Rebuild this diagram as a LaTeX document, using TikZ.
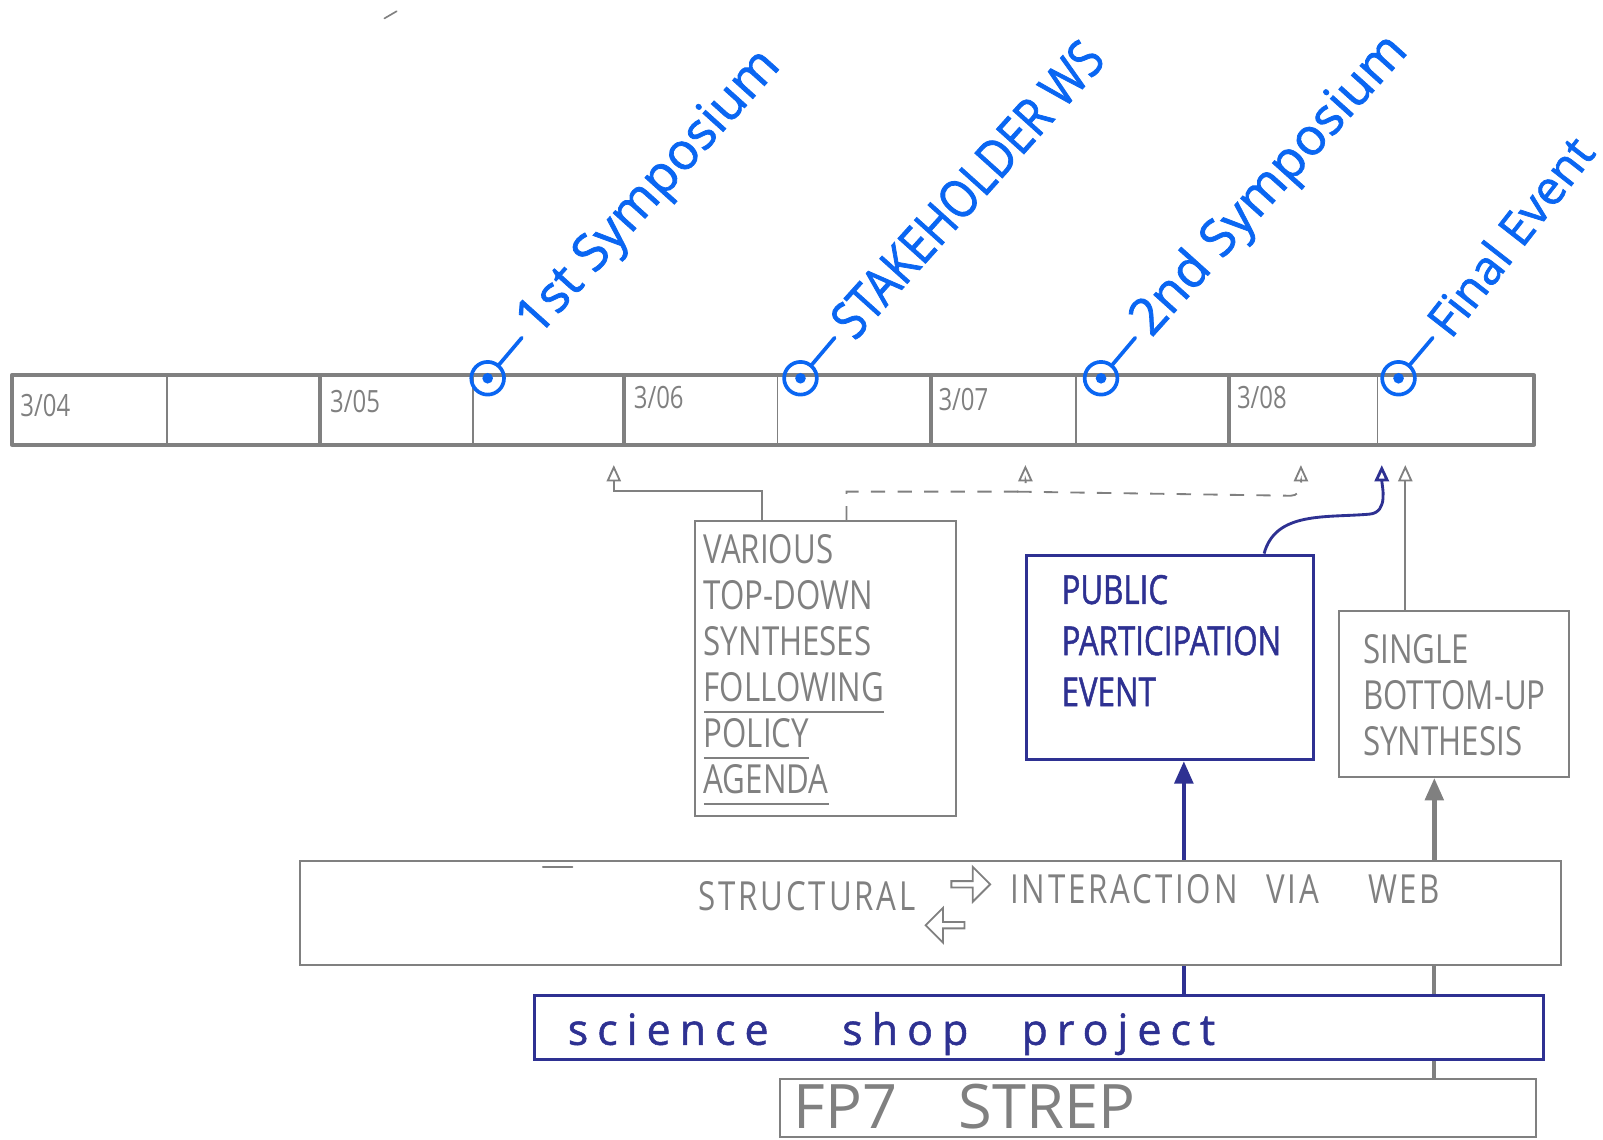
\documentclass[tikz,border=0pt]{standalone}
\usepackage{fontspec}
\setmainfont{Open Sans}
\newfontfamily\hand[FakeStretch=0.78]{Open Sans}
\newfontfamily\handn[FakeStretch=0.78,FakeBold=1.2]{Open Sans}
\newfontfamily\handls[FakeStretch=0.78,LetterSpace=7]{Open Sans}
\newfontfamily\bluefont[FakeBold=1.5]{Open Sans}
\newfontfamily\bluecaps[FakeStretch=0.85,FakeBold=1.5]{Open Sans}
\newfontfamily\handsp[LetterSpace=21,FakeBold=1.2]{Open Sans}
\newsavebox\myulbox
\newcommand\myul[1]{\sbox\myulbox{#1}\rlap{\rule[-6pt]{\wd\myulbox}{1pt}}\usebox\myulbox}
\usetikzlibrary{arrows.meta,shapes.arrows,calc}
\definecolor{sgray}{HTML}{808080}
\definecolor{sblue}{HTML}{0A66F2}
\definecolor{snavy}{HTML}{2E3192}
\tikzset{
  tl/.style={draw=sgray, line width=2pt, line cap=round, line join=round},
  tlthin/.style={draw=sgray, line width=0.8pt},
  cellst/.style={minimum height=33.5pt, inner sep=0pt},
  datest/.style={text=sgray, font=\hand\fontsize{15}{15}\selectfont, inner sep=0pt, anchor=west},
  mstone/.style={circle, draw=sblue, line width=1.8pt, minimum size=16pt, inner sep=0pt},
  mtick/.style={draw=sblue, line width=1.8pt, line cap=round},
  mlab/.style={text=sblue, font=\bluefont\fontsize{25}{25}\selectfont, inner sep=0pt, rotate=48, anchor=west},
  gbox/.style={draw=sgray, line width=1pt, inner sep=0pt},
  nbox/.style={draw=snavy, line width=1.5pt, inner sep=0pt},
  gtext/.style={text=sgray, font=\hand\fontsize{19.6}{22.5}\selectfont, inner sep=0pt, align=left},
  ntext/.style={text=snavy, font=\handn\fontsize{19.6}{25}\selectfont, inner sep=0pt, align=left},
  gconn/.style={draw=sgray, line width=0.9pt, -{Triangle[open, length=8pt, width=7pt]}},
  nconn/.style={draw=snavy, line width=1.4pt, -{Triangle[open, length=8pt, width=7pt]}},
  bigarr/.style={line width=2.2pt, -{Triangle[length=11pt, width=9pt]}},
  blockarr/.style={single arrow, draw=sgray, line width=0.9pt, minimum height=19pt, minimum width=17pt, single arrow head extend=2pt, inner sep=0pt}
}
\begin{document}
\begin{tikzpicture}[x=0.5pt,y=-0.5pt]
\useasboundingbox (0,0) rectangle (1568,1115);

% stray strokes
\draw[sgray, line width=0.8pt, line cap=round] (376,18) -- (388,11);
\draw[sgray, line width=0.8pt, line cap=round] (531,848) -- (560,848);

% timeline cells
\node[cellst, minimum width=75.5pt] (c1) at (87.5,401) {};
\node[cellst, minimum width=75pt] (c2) at (238,401) {};
\node[cellst, minimum width=74.5pt] (c3) at (387.5,401) {};
\node[cellst, minimum width=74pt] (c4) at (536,401) {};
\node[cellst, minimum width=75pt] (c5) at (685,401) {};
\node[cellst, minimum width=75pt] (c6) at (835,401) {};
\node[cellst, minimum width=71pt] (c7) at (981,401) {};
\node[cellst, minimum width=75pt] (c8) at (1127,401) {};
\node[cellst, minimum width=72.5pt] (c9) at (1274.5,401) {};
\node[cellst, minimum width=76.5pt] (c10) at (1423.5,401) {};

\draw[tl] (c1.north west) rectangle (c10.south east);
\foreach \c in {c2,c4,c6,c8} \draw[tl] (\c.north east) -- (\c.south east);
\foreach \c in {c1,c3,c5,c7,c9} \draw[tlthin] (\c.north east) -- (\c.south east);

\node[datest] (d1) at ([xshift=4pt,yshift=2pt]c1.west) {3/04};
\node[datest] (d2) at ([xshift=5pt,yshift=4pt]c3.west) {3/05};
\node[datest] (d3) at ([xshift=5pt,yshift=6pt]c5.west) {3/06};
\node[datest] (d4) at ([xshift=4pt,yshift=5pt]c7.west) {3/07};
\node[datest] (d5) at ([xshift=4pt,yshift=6pt]c9.west) {3/08};

% milestones
\foreach \n/\x in {m1/477, m2/783, m3/1077, m4/1368}{
  \node[mstone] (\n) at (\x,370) {};
  \fill[sblue] (\n.center) circle (2.6pt);
  \draw[mtick] (\n.50) -- ++(22,-26) coordinate (\n t);
}
\node[mlab] (m1lab) at ([shift={(6,-8)}]m1t) {1st Symposium};
\node[mlab, font=\bluecaps\fontsize{25.5}{25.5}\selectfont] (m2lab) at ([shift={(6,-8)}]m2t) {STAKEHOLDER WS};
\node[mlab] (m3lab) at ([shift={(6,-8)}]m3t) {2nd Symposium};
\node[mlab, rotate=4, font=\bluefont\fontsize{23}{23}\selectfont] (m4lab) at ([shift={(4,-8)}]m4t) {Final Event};

% target points under the timeline
\coordinate (tip1) at ([xshift=-5pt,yshift=-10pt]c4.south east);
\coordinate (tip2) at ([xshift=11pt,yshift=-10pt]c7.south);
\coordinate (tip3) at ([xshift=-1pt,yshift=-10pt]c9.south);
\coordinate (tip4) at ([xshift=2.5pt,yshift=-10pt]c10.south west);
\coordinate (tip5) at ([xshift=14pt,yshift=-10pt]c10.south west);

% VARIOUS box
\node[gbox, minimum width=127.5pt, minimum height=144pt] (various) at (807.5,654) {};
\node[gtext, anchor=north west] (varioustxt) at (688,522)
  {VARIOUS\\TOP-DOWN\\SYNTHESES\\\myul{FOLLOWING}\\\myul{POLICY}\\\myul{AGENDA}};

\coordinate (v1) at ([xshift=-31.25pt]various.north);
\coordinate (v2) at ([xshift=10.25pt]various.north);
\draw[gconn] (v1) |- ([yshift=-12.5pt]tip1) -- (tip1);
\coordinate (dj) at ([shift={(-8,26)}]tip2);
\draw[gconn, dashed, dash pattern=on 7pt off 6pt] (v2) |- (dj) to[out=0,in=-90] (tip2);
\draw[gconn, dashed, dash pattern=on 7pt off 6pt] (dj) -- ([shift={(-10,30)}]tip3) to[out=0,in=-90] (tip3);

% PUBLIC PARTICIPATION EVENT
\node[nbox, minimum width=140.5pt, minimum height=100pt] (ppe) at (1144.5,643) {};
\node[ntext, anchor=north west] (ppetxt) at (1038,562) {PUBLIC\\PARTICIPATION\\EVENT};
\draw[nconn] ([xshift=46pt]ppe.north) to[out=75,in=185] ([shift={(-12,48)}]tip4) to[out=5,in=-90] (tip4);

% SINGLE BOTTOM-UP SYNTHESIS
\node[gbox, minimum width=112.5pt, minimum height=81pt] (single) at (1422.5,679) {};
\node[gtext, anchor=north west] (singletxt) at (1333,620) {SINGLE\\BOTTOM-UP\\SYNTHESIS};
\draw[gconn] (single.north -| tip5) -- (tip5);

% STRUCTURAL INTERACTION VIA WEB
\node[gbox, minimum width=617pt, minimum height=51pt] (struct) at (910,893) {};
\node[gtext, font=\handls\fontsize{19.6}{22.5}\selectfont, anchor=west] (structtxt) at (683,877) {STRUCTURAL};
\node[gtext, font=\handls\fontsize{19.6}{22.5}\selectfont, anchor=west] (webtxt) at (988,870) {INTERACTION\hspace{14pt}VIA\hspace{24pt}WEB};
\node[blockarr] (rarr) at (948,865) {};
\node[blockarr, shape border rotate=180] (larr) at (926,905) {};

\coordinate (a1) at ([xshift=6.75pt]ppe.south);
\draw[bigarr, snavy] (struct.north -| a1) -- (a1);
\coordinate (a2) at ([xshift=-9.75pt]single.south);
\draw[bigarr, sgray] (struct.north -| a2) -- (a2);

% science shop project
\node[nbox, minimum width=493.5pt, minimum height=31pt] (ssp) at (1016.5,1005) {};
\node[text=snavy, font=\handsp\fontsize{21}{21}\selectfont, inner sep=0pt, anchor=base west] (ssptxt) at (555,1022) {science\hspace{36pt}shop\hspace{26pt}project};
\draw[snavy, line width=2pt] (struct.south -| a1) -- (ssp.north -| a1);
\draw[sgray, line width=2pt] (struct.south -| a2) -- (ssp.north -| a2);

% FP7 STREP
\node[gbox, minimum width=369.5pt, minimum height=28.5pt] (fp7) at (1132.5,1083.5) {};
\node[text=sgray, font=\fontsize{30}{30}\selectfont, inner sep=0pt, anchor=west] (fp7txt) at (776,1082) {FP7\hspace{30pt}STREP};
\draw[sgray, line width=2pt] (ssp.south -| a2) -- (fp7.north -| a2);
\end{tikzpicture}
\end{document}
